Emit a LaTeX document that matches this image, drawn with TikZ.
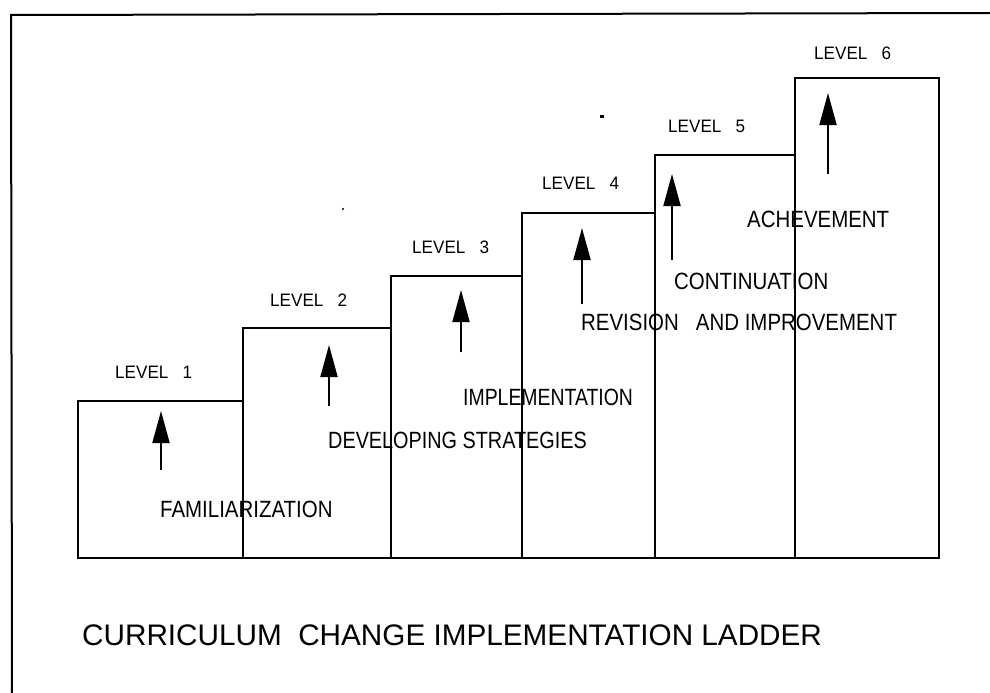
\documentclass[tikz,border=0pt]{standalone}
\usepackage{graphicx}
\usepackage{fontspec}
\setmainfont{Liberation Sans}
\newfontfamily\stepfont[FakeStretch=0.87]{Liberation Sans}
\newfontfamily\levelfont[FakeStretch=0.95]{Liberation Sans}
\usetikzlibrary{arrows.meta}
\newcommand{\squeeze}[2]{\scalebox{#1}[1]{#2}}
\begin{document}
\begin{tikzpicture}[x=1pt,y=-1pt,
  stepbox/.style={draw,line width=2.6pt,inner sep=0,outer sep=0,anchor=south west},
  levellabel/.style={inner sep=0,anchor=west,font=\levelfont\fontsize{18}{18}\selectfont},
  stagelabel/.style={inner sep=0,anchor=west,font=\stepfont\fontsize{23.5}{23.5}\selectfont},
  uparrow/.style={line width=1.9pt,-{Triangle[length=32pt,width=17pt]}},
  frameline/.style={line width=2pt}]
\useasboundingbox (0,0) rectangle (990,693);

% outer frame: top and left edges only
\coordinate (ftl) at (11,15);
\coordinate (ftr) at (990,13);
\coordinate (fbl) at (12,693);
\draw[frameline] (ftr) -- (ftl) -- (fbl);

% the six steps of the ladder
\node[stepbox,minimum width=165,minimum height=157] (s1) at (78,558) {};
\node[stepbox,minimum width=148,minimum height=230] (s2) at (243,558) {};
\node[stepbox,minimum width=131,minimum height=282] (s3) at (391,558) {};
\node[stepbox,minimum width=133,minimum height=345] (s4) at (522,558) {};
\node[stepbox,minimum width=140,minimum height=403] (s5) at (655,558) {};
\node[stepbox,minimum width=144,minimum height=480] (s6) at (795,558) {};

% level captions above each step
\node[levellabel] (l1) at (115,372) {LEVEL\ \ \ 1};
\node[levellabel] (l2) at (270,300) {LEVEL\ \ \ 2};
\node[levellabel] (l3) at (412,247) {LEVEL\ \ \ 3};
\node[levellabel] (l4) at (542,183) {LEVEL\ \ \ 4};
\node[levellabel] (l5) at (668,126) {LEVEL\ \ \ 5};
\node[levellabel] (l6) at (814,53) {LEVEL\ \ \ 6};

% upward arrows inside the steps
\coordinate (a1b) at (161,470); \coordinate (a1t) at (161,411);
\coordinate (a2b) at (329,406); \coordinate (a2t) at (329,345);
\coordinate (a3b) at (461,352); \coordinate (a3t) at (461,290);
\coordinate (a4b) at (582,304); \coordinate (a4t) at (582,228);
\coordinate (a5b) at (672,260); \coordinate (a5t) at (672,174);
\coordinate (a6b) at (828,174); \coordinate (a6t) at (828,93);
\foreach \i in {1,...,6} \draw[uparrow] (a\i b) -- (a\i t);

% stage names
\node[stagelabel] (t1) at (160,509) {FAMILIARIZATION};
\node[stagelabel] (t2) at (328,440) {\squeeze{0.97}{DEVELOPING STRATEGIES}};
\node[stagelabel] (t3) at (463,397) {\squeeze{0.95}{IMPLEMENTATION}};
\node[stagelabel] (t4) at (581,322) {REVISION\ \ \ AND IMPROVEMENT};
\node[stagelabel] (t5) at (674,281) {CONTINUATION};
\node[stagelabel] (t6) at (747,219) {ACHEVEMENT};

% title
\node[inner sep=0,anchor=west,font=\fontsize{29.7}{29.7}\selectfont] (title) at (82,635)
  {CURRICULUM\ \ CHANGE IMPLEMENTATION LADDER};

% stray specks
\fill (343,209) circle (1.2);
\fill (600,115) rectangle (604,117.5);
\end{tikzpicture}
\end{document}
